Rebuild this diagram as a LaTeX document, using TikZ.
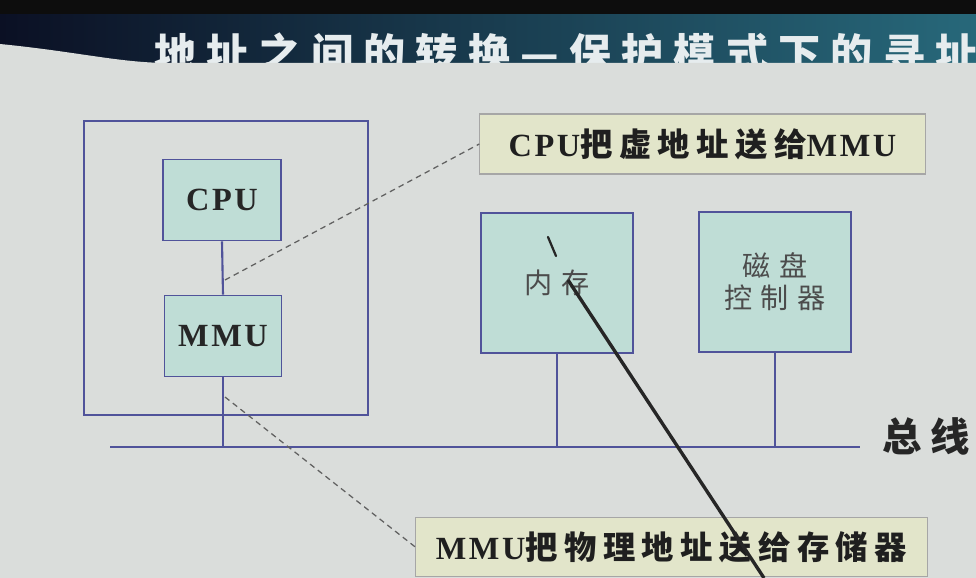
\documentclass[tikz,border=0pt]{standalone}
\usepackage{fontspec}
\setmainfont{Liberation Serif}
\newfontfamily\cjk{Noto Sans CJK SC}
\newfontfamily\cjksp[LetterSpace=20]{Noto Sans CJK SC}
\newfontfamily\cjkwide[LetterSpace=30]{Noto Sans CJK SC}
\newfontfamily\latsp[LetterSpace=8]{Liberation Serif}
\usepackage{xcolor}
\usetikzlibrary{positioning}
\definecolor{slide}{HTML}{DADDDB}
\definecolor{boxfill}{HTML}{BFDDD6}
\definecolor{boxline}{HTML}{50539A}
\definecolor{notefill}{HTML}{E2E5CA}
\definecolor{titletext}{HTML}{E6ECEE}
\definecolor{bandleft}{HTML}{0B1024}
\definecolor{bandmid}{HTML}{173A55}
\definecolor{bandright}{HTML}{27687A}

\begin{document}
\begin{tikzpicture}[x=0.025cm,y=-0.025cm,
    chip/.style={draw=boxline,fill=boxfill,line width=1.2pt,
        font=\latsp\bfseries\fontsize{23}{27}\selectfont,text=black!85},
    unit/.style={draw=boxline,fill=boxfill,line width=1.2pt,
        minimum width=3.8cm,minimum height=3.5cm,align=center,
        font=\cjkwide\fontsize{20}{23}\selectfont,text=black!70},
    note/.style={draw=black!35,fill=notefill,line width=0.8pt,
        font=\bfseries\fontsize{23}{27}\selectfont,text=black!88},
    link/.style={boxline,line width=1.5pt},
    hint/.style={black!62,dash pattern=on 4pt off 3pt,line width=0.9pt}]
    \useasboundingbox (0,0) rectangle (976,578);
    % photo of the slide: title band, then the white page over it
    \shade[left color=bandleft,middle color=bandmid,right color=bandright] (0,0) rectangle (976,75);
    \fill[black!95] (0,0) rectangle (976,14);
    \node[anchor=base west,inner sep=0pt,text=titletext] (title) at (154,70)
        {\fontsize{30}{32}\selectfont\cjk\bfseries\addfontfeature{LetterSpace=24}地址之间的转换—保护模式下的寻址};
    \fill[slide] (0,44) .. controls (80,52) and (120,63) .. (170,63) -- (976,63) -- (976,578) -- (0,578) -- cycle;
    % CPU side
    \draw[boxline,line width=1pt] (84,121) rectangle (368,415);
    \node[chip,minimum width=2.95cm,minimum height=2.03cm] (cpu) at (222,200) {CPU};
    \node[chip,minimum width=2.93cm,minimum height=2.03cm] (mmu) at (223,336) {MMU};
    \coordinate (busl) at (110,447);
    \coordinate (busr) at (860,447);
    \draw[link] (busl) -- (busr);
    \draw[link] (cpu.south) -- (mmu.north);
    \draw[link] (mmu.south) -- (mmu.south |- busl);
    % memory and disk controller
    \node[unit] (mem) at (557,283) {内存};
    \node[unit] (disk) at (775,282) {磁盘\\控制器};
    \draw[link] (mem.south) -- (mem.south |- busl);
    \draw[link] (disk.south) -- (disk.south |- busl);
    \node[anchor=west,font=\cjksp\bfseries\fontsize{28}{30}\selectfont,text=black!85] (buslabel) at (878,436) {总线};
    % callouts
    \node[note,minimum width=11.13cm,minimum height=1.5cm] (note1) at (702.5,144)
        {\latsp CPU\cjksp 把虚地址送给\latsp MMU};
    \node[note,minimum width=12.78cm,minimum height=1.48cm] (note2) at (671.5,547)
        {\latsp MMU\cjksp 把物理地址送给存储器};
    \coordinate (tap1) at (225,280);
    \coordinate (tap2) at (225,397);
    \draw[hint] (tap1) -- (note1.west);
    \draw[hint] (tap2) -- (note2.west);
    % the lecturer's pointer
    \draw[black!85,line width=1.6pt,line cap=round] (548,237) -- (556,256);
    \draw[black!85,line width=2.4pt] (568,280) -- (764,578);
\end{tikzpicture}
\end{document}
